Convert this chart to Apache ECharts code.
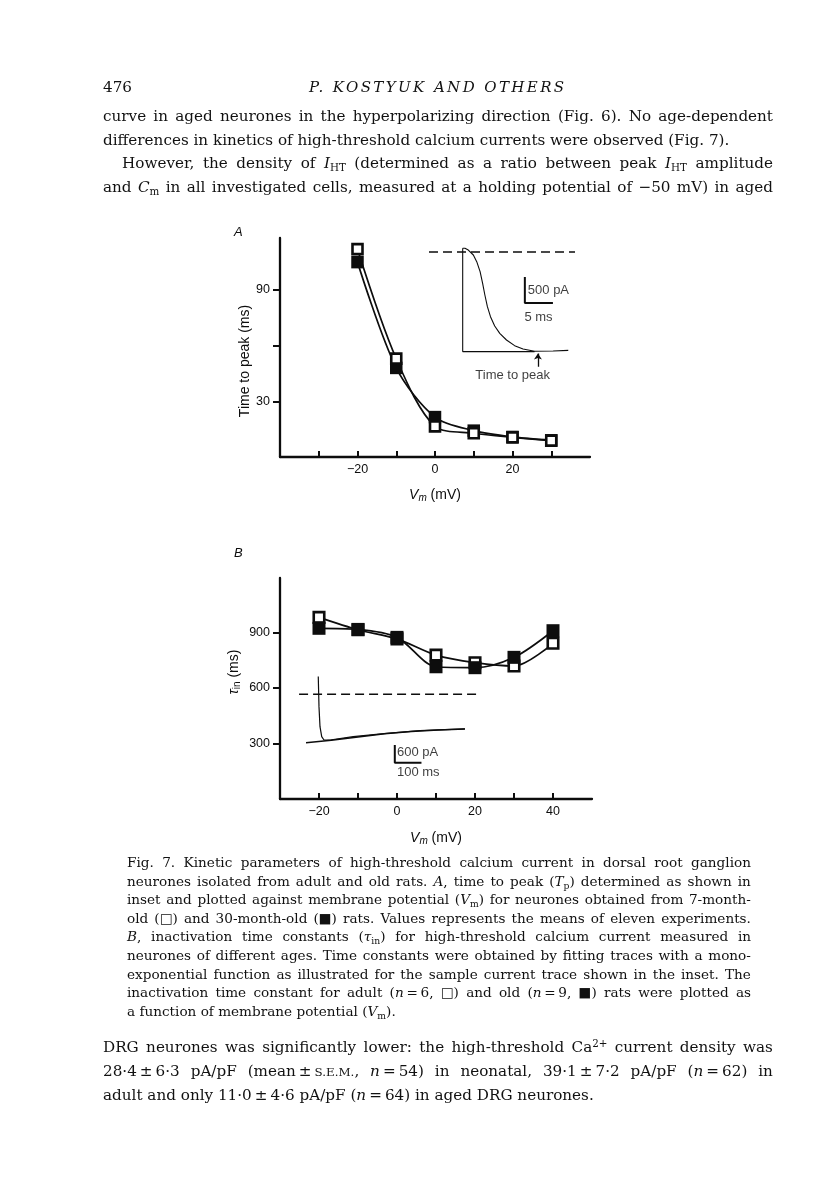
<!DOCTYPE html>
<html><head><meta charset="utf-8">
<script src="https://cdn.jsdelivr.net/npm/echarts@6/dist/echarts.min.js"></script>
<style>
html,body{margin:0;padding:0;background:#fff;}
#page{position:relative;width:816px;height:1203px;overflow:hidden;background:#fff;}
#chart{position:absolute;left:0;top:0;width:816px;height:1203px;}
.ln{position:absolute;white-space:nowrap;color:#111;font-family:"DejaVu Serif",serif;}
.body{font-size:15.2px;line-height:20px;}
.cap{font-size:13.6px;line-height:16px;}
.just{display:flex;justify-content:space-between;}
.hdr{font-size:15px;line-height:20px;font-style:italic;letter-spacing:2.4px;}
sub{font-size:0.68em;vertical-align:-0.3em;line-height:0;}
sup{font-size:0.68em;vertical-align:0.5em;line-height:0;}
sc{font-size:0.78em;}
</style></head><body>
<div id="page"><div id="chart"></div><div id="text"></div></div>
<script>
// ---------- chart data ----------
const vmA = [-20, -10, 0, 10, 20, 30];
const tpAdult = [112, 53, 16.5, 12.8, 10.6, 8.8];      // open squares, 7-month
const tpOld = [105, 48, 21.5, 14.2, 10.8, 9.0];        // filled squares, 30-month
const vmB = [-20, -10, 0, 10, 20, 30, 40];
const tauAdult = [982, 915, 866, 778, 737, 719, 842];  // open squares
const tauOld = [923, 917, 874, 715, 710, 766, 910];    // filled squares

const xTicksA = [-30, -20, -10, 0, 10, 20, 30];
const xLabelsA = [-20, 0, 20];
const yTicksA = [30, 60, 90];
const yLabelsA = [30, 90];
const xTicksB = [-20, -10, 0, 10, 20, 30, 40];
const xLabelsB = [-20, 0, 20, 40];
const yTicksB = [300, 600, 900];
const yLabelsB = [300, 600, 900];

// inset A: current trace (t in ms, I in pA)
const insetAFrame = [[12.8, -1915], [0, -1915], [0, 71]];
const insetATrace = [[0, 71], [0.4, 72], [1.0, 38], [1.9, -58], [2.5, -186], [3.1, -378], [3.55, -603], [3.95, -827], [4.4, -1051], [4.95, -1244], [5.7, -1423], [6.6, -1564], [7.8, -1692], [9.25, -1801], [10.75, -1865], [12.8, -1910], [16.1, -1904], [18.8, -1891]];
const insetAZero = [[-6, 0], [20, 0]];
const insetABar = [[11.07, -481], [11.07, -981], [16.07, -981]];
const insetALabels = [[11.6, -740, '500 pA', 'left'], [13.5, -1250, '5 ms', 'center'], [8.9, -2370, 'Time to peak', 'center']];
const insetAArrow = [[13.4, -2205], [13.4, -1950]];

// inset B: current trace (t in ms, I in pA)
const insetBTrace = [[1, 597], [3.7, -420], [7.5, -1098], [13.9, -1437], [22.5, -1549], [45, -1549], [132, -1437], [257, -1322], [382, -1234], [551, -1176]];
const insetBFit = [[-45, -1641], [50, -1560], [150, -1445], [250, -1335], [350, -1260], [450, -1210], [551, -1180]];
const insetBZero = [[-71, 0], [607, 0]];
const insetBBar = [[288, -1715], [288, -2315], [388, -2315]];
const insetBLabels = [[296, -1960, '600 pA', 'left'], [296, -2640, '100 ms', 'left']];

// ---------- page text ----------
const headerNum = '476';
const headerTitle = 'P. KOSTYUK AND OTHERS';
const topLines = [
  ['curve in aged neurones in the hyperpolarizing direction (Fig. 6). No age-dependent', 1, 0],
  ['differences in kinetics of high-threshold calcium currents were observed (Fig. 7).', 0, 0],
  ['However, the density of <i>I</i><sub>HT</sub> (determined as a ratio between peak <i>I</i><sub>HT</sub> amplitude', 1, 19],
  ['and <i>C</i><sub>m</sub> in all investigated cells, measured at a holding potential of \u221250 mV) in aged', 1, 0]
];
const capLines = [
  ['Fig. 7. Kinetic parameters of high-threshold calcium current in dorsal root ganglion', 1],
  ['neurones isolated from adult and old rats. <i>A</i>, time to peak (<i>T</i><sub>p</sub>) determined as shown in', 1],
  ['inset and plotted against membrane potential (<i>V</i><sub>m</sub>) for neurones obtained from 7-month-', 1],
  ['old (\u25A1) and 30-month-old (\u25A0) rats. Values represents the means of eleven experiments.', 1],
  ['<i>B</i>, inactivation time constants (<i>\u03C4</i><sub>in</sub>) for high-threshold calcium current measured in', 1],
  ['neurones of different ages. Time constants were obtained by fitting traces with a mono-', 1],
  ['exponential function as illustrated for the sample current trace shown in the inset. The', 1],
  ['inactivation time constant for adult (<i>n</i>\u2009=\u20096, \u25A1) and old (<i>n</i>\u2009=\u20099, \u25A0) rats were plotted as', 1],
  ['a function of membrane potential (<i>V</i><sub>m</sub>).', 0]
];
const bottomLines = [
  ['DRG neurones was significantly lower: the high-threshold Ca<sup>2+</sup> current density was', 1],
  ['28\u00B74\u2009\u00B1\u20096\u00B73 pA/pF (mean\u2009\u00B1\u2009<sc>S.E.M.</sc>, <i>n</i>\u2009=\u200954) in neonatal, 39\u00B71\u2009\u00B1\u20097\u00B72 pA/pF (<i>n</i>\u2009=\u200962) in', 1],
  ['adult and only 11\u00B70\u2009\u00B1\u20094\u00B76 pA/pF (<i>n</i>\u2009=\u200964) in aged DRG neurones.', 0]
];

const textBox = document.getElementById('text');
function addLine(html, x, w, cy, cls, just, lh) {
  const d = document.createElement('div');
  d.className = 'ln ' + cls + (just ? ' just' : '');
  d.style.left = x + 'px';
  d.style.top = (cy - lh / 2) + 'px';
  if (just) {
    d.style.width = w + 'px';
    d.innerHTML = html.split(' ').map(s => '<span>' + s + '</span>').join('');
  } else {
    d.innerHTML = html;
  }
  textBox.appendChild(d);
  return d;
}
const BODY_L = 103, BODY_W = 670;
addLine(headerNum, BODY_L, 0, 87, 'body', false, 20);
const ht = addLine(headerTitle, 0, 0, 87, 'hdr', false, 20);
ht.style.left = (BODY_L + BODY_W / 2 - ht.offsetWidth / 2) + 'px';
topLines.forEach((l, i) => addLine(l[0], BODY_L + l[2], BODY_W - l[2], 116 + i * 23.5, 'body', l[1], 20));
const CAP_L = 127, CAP_W = 624;
capLines.forEach((l, i) => addLine(l[0], CAP_L, CAP_W, 862 + i * 18.6, 'cap', l[1], 16));
bottomLines.forEach((l, i) => addLine(l[0], BODY_L, BODY_W, 1047 + i * 24, 'body', l[1], 20));

// ---------- chart ----------
const INK = '#0d0d0d';
const SANS = 'Liberation Sans, Arial, sans-serif';
const fmtMinus = v => (v < 0 ? '\u2212' + Math.abs(v) : String(v));
const zip = (xs, ys) => xs.map((x, i) => [x, ys[i]]);

function mainX(grid, min, max, ticks, labels, nameGap) {
  return {
    type: 'value', gridIndex: grid, min: min, max: max, interval: 10,
    axisLine: { show: true, onZero: false, lineStyle: { color: INK, width: 2.3 } },
    axisTick: { show: true, inside: true, length: 6, lineStyle: { color: INK, width: 2 }, customValues: ticks },
    axisLabel: { show: true, customValues: labels, formatter: fmtMinus, margin: 6, color: INK, fontSize: 12.5, fontFamily: SANS },
    splitLine: { show: false },
    name: '{v|V}{m|m}{r| (mV)}', nameLocation: 'middle', nameGap: nameGap,
    nameTextStyle: {
      color: INK, fontFamily: SANS, fontSize: 14,
      rich: {
        v: { fontStyle: 'italic', fontSize: 14, fontFamily: SANS, color: INK, lineHeight: 16 },
        m: { fontStyle: 'italic', fontSize: 10, fontFamily: SANS, color: INK, lineHeight: 8, verticalAlign: 'bottom' },
        r: { fontSize: 14, fontFamily: SANS, color: INK, lineHeight: 16 }
      }
    }
  };
}
function mainY(grid, min, max, interval, ticks, labels) {
  return {
    type: 'value', gridIndex: grid, min: min, max: max, interval: interval,
    axisLine: { show: true, onZero: false, lineStyle: { color: INK, width: 2.3 } },
    axisTick: { show: true, inside: false, length: 7, lineStyle: { color: INK, width: 2 }, customValues: ticks },
    axisLabel: { show: true, customValues: labels, margin: 10, color: INK, fontSize: 12.5, fontFamily: SANS },
    splitLine: { show: false }
  };
}
function hidden(grid, min, max) {
  return { type: 'value', gridIndex: grid, min: min, max: max, show: false,
           axisLine: { onZero: false }, splitLine: { show: false } };
}
function traceSeries(ax, data, width, dashed) {
  return {
    type: 'line', xAxisIndex: ax, yAxisIndex: ax, data: data, symbol: 'none', clip: false,
    lineStyle: { color: INK, width: width, type: dashed ? [9, 5] : 'solid' },
    silent: true, animation: false, z: 3
  };
}
function labelSeries(ax, list) {
  return {
    type: 'scatter', xAxisIndex: ax, yAxisIndex: ax, symbolSize: 0, clip: false, silent: true,
    data: list.map(d => ({ value: [d[0], d[1]], name: d[2],
      label: { show: true, position: 'inside', align: d[3], verticalAlign: 'middle', formatter: d[2],
               color: INK, fontSize: 13, fontFamily: SANS } }))
  };
}
function pointSeries(ax, xs, ys, filled, size, smooth) {
  return {
    type: 'line', xAxisIndex: ax, yAxisIndex: ax, data: zip(xs, ys),
    symbol: 'rect', symbolSize: size, showAllSymbol: true, smooth: smooth,
    lineStyle: { color: INK, width: 1.7 },
    itemStyle: filled ? { color: INK, borderColor: INK, borderWidth: 0 } : { color: '#fff', borderColor: INK, borderWidth: 2.6 },
    emphasis: { disabled: true }, z: 5, animation: false
  };
}

const chart = echarts.init(document.getElementById('chart'));
chart.setOption({
  backgroundColor: 'transparent',
  animation: false,
  grid: [
    { left: 280, top: 238, width: 310, height: 219, outerBoundsMode: 'none', containLabel: false },
    { left: 429, top: 239, width: 146, height: 143, outerBoundsMode: 'none', containLabel: false },
    { left: 280, top: 578, width: 312, height: 221, outerBoundsMode: 'none', containLabel: false },
    { left: 298, top: 670, width: 184, height: 104, outerBoundsMode: 'none', containLabel: false }
  ],
  xAxis: [
    mainX(0, -40, 40, xTicksA, xLabelsA, 30),
    hidden(1, -6, 20),
    mainX(2, -30, 50, xTicksB, xLabelsB, 31),
    hidden(3, -75, 615)
  ],
  yAxis: [
    mainY(0, 0, 118, 30, yTicksA, yLabelsA),
    hidden(1, -2500, 250),
    mainY(2, 0, 1195, 300, yTicksB, yLabelsB),
    hidden(3, -2700, 820)
  ],
  graphic: [
    { type: 'text', x: 234, y: 226, style: { text: 'A', font: 'italic 13px Liberation Sans', fill: INK } },
    { type: 'text', x: 234, y: 547, style: { text: 'B', font: 'italic 13px Liberation Sans', fill: INK } },
    { type: 'text', x: 245, y: 361, rotation: Math.PI / 2,
      style: { text: 'Time to peak (ms)', font: '14px Liberation Sans', fill: INK, align: 'center', verticalAlign: 'middle', textAlign: 'center', textVerticalAlign: 'middle' } },
    { type: 'text', x: 234, y: 672, rotation: Math.PI / 2,
      style: { text: '{t|\u03C4}{s|in}{r| (ms)}', fill: INK, align: 'center', verticalAlign: 'middle', textAlign: 'center', textVerticalAlign: 'middle',
        font: '14px Liberation Sans',
        rich: {
          t: { fontSize: 14, fontStyle: 'italic', fontFamily: 'Liberation Sans', fill: INK, lineHeight: 16 },
          s: { fontSize: 10, fontFamily: 'Liberation Sans', fill: INK, lineHeight: 8, verticalAlign: 'bottom' },
          r: { fontSize: 14, fontFamily: 'Liberation Sans', fill: INK, lineHeight: 16 }
        } } }
  ],
  series: [
    // panel A
    pointSeries(0, vmA, tpOld, true, 12.5, 0.3),
    pointSeries(0, vmA, tpAdult, false, 10, 0.3),
    // inset A
    traceSeries(1, insetAZero, 1.4, true),
    traceSeries(1, insetAFrame, 1.1, false),
    traceSeries(1, insetATrace, 1.1, false),
    traceSeries(1, insetABar, 2, false),
    labelSeries(1, insetALabels),
    { type: 'lines', coordinateSystem: 'cartesian2d', xAxisIndex: 1, yAxisIndex: 1, silent: true,
      data: [{ coords: insetAArrow }], symbol: ['none', 'arrow'], symbolSize: 6,
      lineStyle: { color: INK, width: 1.3, opacity: 1 } },
    // panel B
    pointSeries(2, vmB, tauAdult, false, 10.5, 0.3),
    pointSeries(2, vmB, tauOld, true, 13, 0.3),
    // inset B
    traceSeries(3, insetBZero, 1.4, true),
    traceSeries(3, insetBFit, 1.5, false),
    traceSeries(3, insetBTrace, 1.2, false),
    traceSeries(3, insetBBar, 2, false),
    labelSeries(3, insetBLabels)
  ]
});
</script>
</body></html>
